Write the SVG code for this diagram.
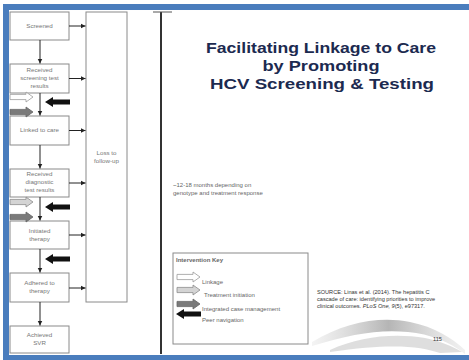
<svg xmlns="http://www.w3.org/2000/svg" xmlns:xlink="http://www.w3.org/1999/xlink" width="469" height="360" viewBox="0 0 469 360">
  <style>
    .node rect { fill: #ffffff; stroke: #8a8a8a; stroke-width: 1; }
    .lbl { font-family: "Liberation Sans", Arial, sans-serif; font-size: 6.2px; fill: #777777; text-anchor: middle; }
    .flow { stroke: #222222; stroke-width: 1; fill: none; marker-end: url(#head); }
    .title { font-family: "Liberation Sans", Arial, sans-serif; font-size: 15.5px; font-weight: bold; fill: #1c2a50; text-anchor: middle; }
    .small { font-family: "Liberation Sans", Arial, sans-serif; font-size: 6px; fill: #666666; }
    .src { font-family: "Liberation Sans", Arial, sans-serif; font-size: 5.6px; fill: #333333; }
    .frame { fill: #4a7dbd; }
    .linkage { fill: #ffffff; stroke: #9a9a9a; stroke-width: 0.8; }
    .treat { fill: #d4d4d4; stroke: #8c8c8c; stroke-width: 0.8; }
    .icm { fill: #7a7a7a; stroke: #666666; stroke-width: 0.8; }
    .peer { fill: #111111; }
  </style>
  <defs>
    <marker id="head" markerWidth="6" markerHeight="6" refX="5" refY="3" orient="auto" markerUnits="userSpaceOnUse">
      <path d="M0,0.5 L5,3 L0,5.5 Z" fill="#222222"/>
    </marker>
    <!-- block arrows: right-pointing (intervention) and left-pointing (peer navigation) -->
    <path id="blockR" d="M0,-2.6 H16 V-5 L23,0 L16,5 V2.6 H0 Z"/>
    <path id="blockL" d="M25,-2.6 H8 V-5 L0,0 L8,5 V2.6 H25 Z"/>
    <linearGradient id="swoosh" x1="0" y1="0" x2="1" y2="0">
      <stop offset="0" stop-color="#c8c8c8" stop-opacity="0.2"/>
      <stop offset="0.5" stop-color="#a8a8a8" stop-opacity="0.85"/>
      <stop offset="1" stop-color="#d0d0d0" stop-opacity="0.3"/>
    </linearGradient>
  </defs>

  <rect width="469" height="360" fill="#ffffff"/>

  <!-- decorative swoosh, lower right -->
  <path d="M312,342 C345,322 380,316 410,322 C435,327 452,338 465,350 L465,354 C450,342 430,334 408,332 C380,329 350,334 312,346 Z" fill="url(#swoosh)"/>
  <path d="M330,350 C360,336 395,333 425,338 C440,341 452,346 462,352 L440,353 C420,346 390,343 330,352 Z" fill="#d0d0d0" opacity="0.7"/>

  <!-- frame -->
  <rect class="frame" x="3" y="4" width="466" height="6"/>
  <rect class="frame" x="3" y="4" width="6" height="356"/>
  <rect class="frame" x="3" y="355" width="466" height="5"/>

  <!-- divider line -->
  <g id="divider">
    <line x1="161" y1="12" x2="161" y2="354" stroke="#333333" stroke-width="2"/>
    <line x1="153" y1="12" x2="172" y2="12" stroke="#555555" stroke-width="1"/>
  </g>

  <!-- cascade nodes -->
  <g id="screened" class="node">
    <rect x="10" y="12" width="59" height="28"/>
    <text class="lbl" x="39.5" y="28">Screened</text>
  </g>
  <g id="screening-results" class="node">
    <rect x="10" y="64" width="59" height="29"/>
    <text class="lbl" x="39.5" y="72">Received</text>
    <text class="lbl" x="39.5" y="80">screening test</text>
    <text class="lbl" x="39.5" y="88">results</text>
  </g>
  <g id="linked" class="node">
    <rect x="10" y="116" width="59" height="29"/>
    <text class="lbl" x="39.5" y="132">Linked to care</text>
  </g>
  <g id="diagnostic-results" class="node">
    <rect x="10" y="169" width="59" height="28"/>
    <text class="lbl" x="39.5" y="176">Received</text>
    <text class="lbl" x="39.5" y="184">diagnostic</text>
    <text class="lbl" x="39.5" y="192">test results</text>
  </g>
  <g id="initiated" class="node">
    <rect x="10" y="221" width="59" height="28"/>
    <text class="lbl" x="39.5" y="233">Initiated</text>
    <text class="lbl" x="39.5" y="241">therapy</text>
  </g>
  <g id="adhered" class="node">
    <rect x="10" y="273" width="59" height="29"/>
    <text class="lbl" x="39.5" y="285">Adhered to</text>
    <text class="lbl" x="39.5" y="293">therapy</text>
  </g>
  <g id="svr" class="node">
    <rect x="10" y="326" width="59" height="27"/>
    <text class="lbl" x="39.5" y="337">Achieved</text>
    <text class="lbl" x="39.5" y="345">SVR</text>
  </g>
  <g id="loss" class="node">
    <rect x="86" y="12" width="41" height="290"/>
    <text class="lbl" x="106.5" y="155">Loss to</text>
    <text class="lbl" x="106.5" y="163">follow-up</text>
  </g>

  <!-- connectors -->
  <g id="connectors">
    <line class="flow" x1="40" y1="40" x2="40" y2="63.5"/>
    <line class="flow" x1="40" y1="93" x2="40" y2="115.5"/>
    <line class="flow" x1="40" y1="145" x2="40" y2="168.5"/>
    <line class="flow" x1="40" y1="197" x2="40" y2="220.5"/>
    <line class="flow" x1="40" y1="249" x2="40" y2="272.5"/>
    <line class="flow" x1="40" y1="302" x2="40" y2="325.5"/>
    <line class="flow" x1="69" y1="26" x2="85.5" y2="26"/>
    <line class="flow" x1="69" y1="78.5" x2="85.5" y2="78.5"/>
    <line class="flow" x1="69" y1="130.5" x2="85.5" y2="130.5"/>
    <line class="flow" x1="69" y1="183" x2="85.5" y2="183"/>
    <line class="flow" x1="69" y1="235" x2="85.5" y2="235"/>
    <line class="flow" x1="69" y1="288" x2="85.5" y2="288"/>
  </g>

  <!-- interventions along the cascade -->
  <g id="interventions">
    <use xlink:href="#blockR" class="linkage" x="10" y="97"/>
    <use xlink:href="#blockL" class="peer" x="45" y="102"/>
    <use xlink:href="#blockR" class="icm" x="10" y="112"/>
    <use xlink:href="#blockR" class="treat" x="10" y="202"/>
    <use xlink:href="#blockL" class="peer" x="45" y="207"/>
    <use xlink:href="#blockR" class="icm" x="10" y="217"/>
    <use xlink:href="#blockL" class="peer" x="45" y="259"/>
  </g>

  <!-- title -->
  <g id="title">
    <text class="title" x="321" y="53" textLength="230" lengthAdjust="spacingAndGlyphs">Facilitating Linkage to Care</text>
    <text class="title" x="321" y="71" textLength="117" lengthAdjust="spacingAndGlyphs">by Promoting</text>
    <text class="title" x="322" y="89" textLength="224" lengthAdjust="spacingAndGlyphs">HCV Screening &amp; Testing</text>
  </g>

  <!-- note -->
  <g id="note">
    <text class="small" x="173" y="187">~12-18 months depending on</text>
    <text class="small" x="173" y="195">genotype and treatment response</text>
  </g>

  <!-- intervention key -->
  <g id="key">
    <rect x="173" y="253" width="135" height="91" fill="#ffffff" stroke="#8a8a8a" stroke-width="1"/>
    <text class="small" x="176" y="262" font-weight="bold" fill="#555555">Intervention Key</text>
    <use xlink:href="#blockR" class="linkage" x="177" y="277"/>
    <text class="small" x="202" y="284">Linkage</text>
    <use xlink:href="#blockR" class="treat" x="177" y="290"/>
    <text class="small" x="204" y="297">Treatment initiation</text>
    <use xlink:href="#blockR" class="icm" x="177" y="304"/>
    <text class="small" x="202" y="311">Integrated case management</text>
    <use xlink:href="#blockL" class="peer" x="176" y="314"/>
    <text class="small" x="202" y="322">Peer navigation</text>
  </g>

  <!-- source -->
  <g id="source">
    <text class="src" x="317" y="294">SOURCE: Linas et al. (2014). The hepatitis C</text>
    <text class="src" x="317" y="301">cascade of care: identifying priorities to improve</text>
    <text class="src" x="317" y="308">clinical outcomes. <tspan font-style="italic">PLoS One, 9</tspan>(5), e97317.</text>
    <text class="src" x="433" y="341">115</text>
  </g>
</svg>
